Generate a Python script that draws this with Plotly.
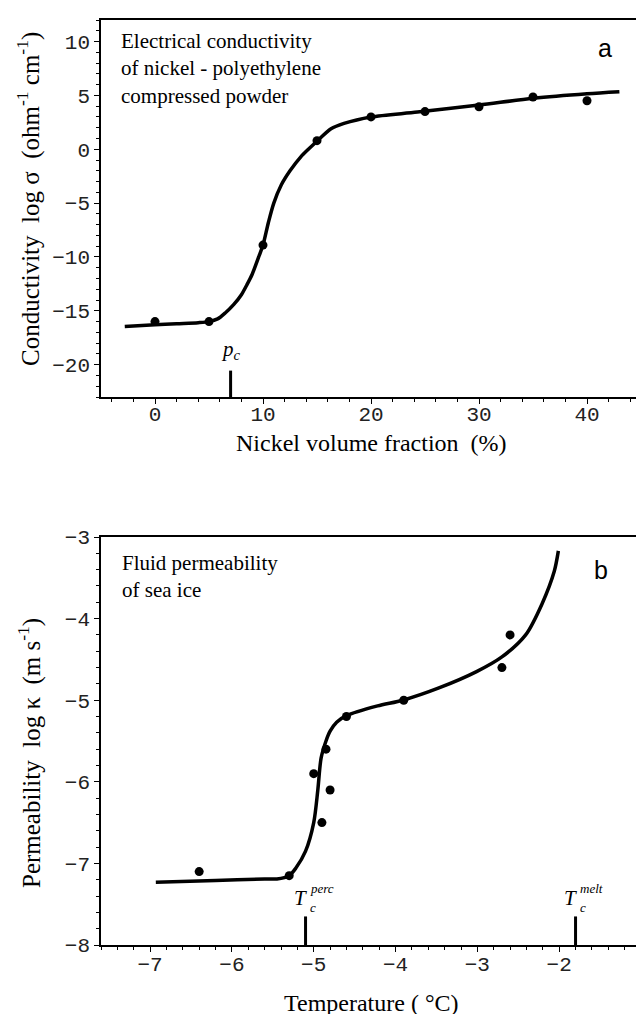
import plotly.graph_objects as go

# ---------------- Panel a data ----------------
ni_fraction = [0, 5, 10, 15, 20, 25, 30, 35, 40]
log_sigma = [-16.0, -16.0, -8.9, 0.8, 3.0, 3.5, 3.95, 4.85, 4.5]

fit_a_x = [-2.8, 0, 2, 4, 5, 5.8, 6.5, 7.3, 8, 8.5, 9, 9.6, 10, 10.5, 11, 11.7,
           12.5, 13.5, 14.2, 15, 16.3, 17.5, 20, 24.3, 30, 35, 40, 43]
fit_a_y = [-16.45, -16.3, -16.2, -16.1, -16.0, -15.75, -15.2, -14.4, -13.5, -12.6,
           -11.6, -10.0, -8.9, -6.8, -5.0, -3.3, -2.0, -0.7, 0.0, 0.75, 1.9, 2.4,
           3.0, 3.45, 4.1, 4.73, 5.16, 5.35]

p_c = [7.0]
p_c_bar = [-23.0, -20.55]

# ---------------- Panel b data ----------------
temp = [-6.4, -5.3, -5.0, -4.9, -4.85, -4.8, -4.6, -3.9, -2.7, -2.6]
log_kappa = [-7.1, -7.15, -5.9, -6.5, -5.6, -6.1, -5.2, -5.0, -4.6, -4.2]

fit_b_x = [-6.93, -6.2, -5.6, -5.45, -5.3, -5.22, -5.1, -5.0, -4.95, -4.91,
           -4.85, -4.8, -4.72, -4.6, -4.22, -3.91, -3.47, -3.01, -2.7, -2.41,
           -2.21, -2.06, -2.01]
fit_b_y = [-7.23, -7.21, -7.19, -7.19, -7.15, -7.06, -6.85, -6.5, -6.1, -5.71,
           -5.5, -5.38, -5.27, -5.19, -5.07, -5.0, -4.85, -4.65, -4.47, -4.2,
           -3.82, -3.42, -3.17]

t_perc = [-5.1]
t_melt = [-1.8]
t_bar = [-8.0, -7.65]

W, H = 644, 1014
def px_x(p):
    return p / W
def px_y(p):
    return 1 - p / H

serif = "Liberation Serif"
mono = "Liberation Mono"
sans = "Liberation Sans"
black = "#000000"

fig = go.Figure()

# panel a
fig.add_trace(go.Scatter(x=fit_a_x, y=fit_a_y, mode="lines",
                         line=dict(color=black, width=3.5, shape="spline", smoothing=0.8),
                         xaxis="x", yaxis="y", hoverinfo="skip"))
fig.add_trace(go.Scatter(x=ni_fraction, y=log_sigma, mode="markers",
                         marker=dict(color=black, size=9), xaxis="x", yaxis="y"))
fig.add_trace(go.Scatter(x=p_c * 2, y=p_c_bar, mode="lines",
                         line=dict(color=black, width=3), xaxis="x", yaxis="y"))

# panel b
fig.add_trace(go.Scatter(x=fit_b_x, y=fit_b_y, mode="lines",
                         line=dict(color=black, width=3.5, shape="spline", smoothing=0.8),
                         xaxis="x2", yaxis="y2", hoverinfo="skip"))
fig.add_trace(go.Scatter(x=temp, y=log_kappa, mode="markers",
                         marker=dict(color=black, size=9), xaxis="x2", yaxis="y2"))
fig.add_trace(go.Scatter(x=t_perc * 2, y=t_bar, mode="lines",
                         line=dict(color=black, width=3), xaxis="x2", yaxis="y2"))
fig.add_trace(go.Scatter(x=t_melt * 2, y=t_bar, mode="lines",
                         line=dict(color=black, width=3), xaxis="x2", yaxis="y2"))

tickfont = dict(family=mono, size=21, color="#222222")

def axis_common(lw, standoff):
    return dict(showgrid=False, zeroline=False, showline=True, mirror=True,
                linecolor=black, linewidth=lw, ticks="outside", ticklen=5,
                tickwidth=1, tickcolor=black, tickfont=tickfont, automargin=False,
                ticklabelstandoff=standoff)

xdom = [px_x(93), px_x(633)]
fig.update_layout(
    width=W, height=H,
    margin=dict(l=0, r=0, t=0, b=0),
    paper_bgcolor="white", plot_bgcolor="white",
    showlegend=False,
    xaxis=dict(domain=xdom, range=[-5, 45], tick0=0, dtick=10, anchor="y",
               minor=dict(dtick=2, ticklen=3, ticks="outside", tickcolor=black),
               **axis_common(2, -8)),
    yaxis=dict(domain=[px_y(389), px_y(12)], range=[-23, 12], tick0=0, dtick=5, anchor="x",
               minor=dict(dtick=1, ticklen=3, ticks="outside", tickcolor=black),
               **axis_common(1.5, 0)),
    xaxis2=dict(domain=xdom, range=[-7.6, -1], tick0=0, dtick=1, anchor="y2",
                minor=dict(dtick=0.2, ticklen=3, ticks="outside", tickcolor=black),
                **axis_common(2, -6)),
    yaxis2=dict(domain=[px_y(937), px_y(529)], range=[-8, -3], tick0=0, dtick=1, anchor="x2",
                minor=dict(dtick=0.2, ticklen=3, ticks="outside", tickcolor=black),
                **axis_common(1.5, 0)),
)

nb = "\u00a0"
ann = []
def paper_text(text, x, y, size, family=serif, angle=0, xa="center", ya="middle", align="center"):
    ann.append(dict(text=text, xref="paper", yref="paper", x=px_x(x), y=px_y(y),
                    xanchor=xa, yanchor=ya, align=align, textangle=angle, showarrow=False,
                    font=dict(family=family, size=size, color=black)))

# axis titles
paper_text("Nickel volume fraction" + nb * 2 + "(%)", 363, 435, 24)
paper_text("Conductivity" + nb * 2 + "log σ" + nb * 2 + "(ohm<sup>-1</sup> cm<sup>-1</sup>)",
           21, 191, 25, angle=-90)
paper_text("Temperature ( °C)", 363, 995, 24)
paper_text("Permeability" + nb * 2 + "log κ" + nb * 2 + "(m s<sup>-1</sup>)",
           21, 745, 25, angle=-90)
# in-plot captions
paper_text("Electrical conductivity<br>of nickel - polyethylene<br>compressed powder",
           111, 19, 21, xa="left", ya="top", align="left")
paper_text("Fluid permeability<br>of sea ice", 112, 541, 21, xa="left", ya="top", align="left")
paper_text("a", 597, 40, 25, family=sans)
paper_text("b", 593, 562, 25, family=sans)

# critical labels
ann.append(dict(text="<i>p<sub>c</sub></i>", xref="x", yref="y", x=p_c[0], y=-18.6,
                xanchor="center", yanchor="middle", showarrow=False,
                font=dict(family=serif, size=21, color=black)))
for tx, sup in ((t_perc[0], "perc"), (t_melt[0], "melt")):
    ann.append(dict(text="<i>T</i>", xref="x2", yref="y2", x=tx, y=-7.42,
                    xanchor="right", yanchor="middle", xshift=3, showarrow=False,
                    font=dict(family=serif, size=21, color=black)))
    ann.append(dict(text="<i>" + sup + "</i>", xref="x2", yref="y2", x=tx, y=-7.42,
                    xanchor="left", yanchor="middle", xshift=2, yshift=9, showarrow=False,
                    font=dict(family=serif, size=13, color=black)))
    ann.append(dict(text="<i>c</i>", xref="x2", yref="y2", x=tx, y=-7.42,
                    xanchor="left", yanchor="middle", xshift=2, yshift=-10, showarrow=False,
                    font=dict(family=serif, size=13, color=black)))
fig.update_layout(annotations=ann)

fig.write_html("out.html")
